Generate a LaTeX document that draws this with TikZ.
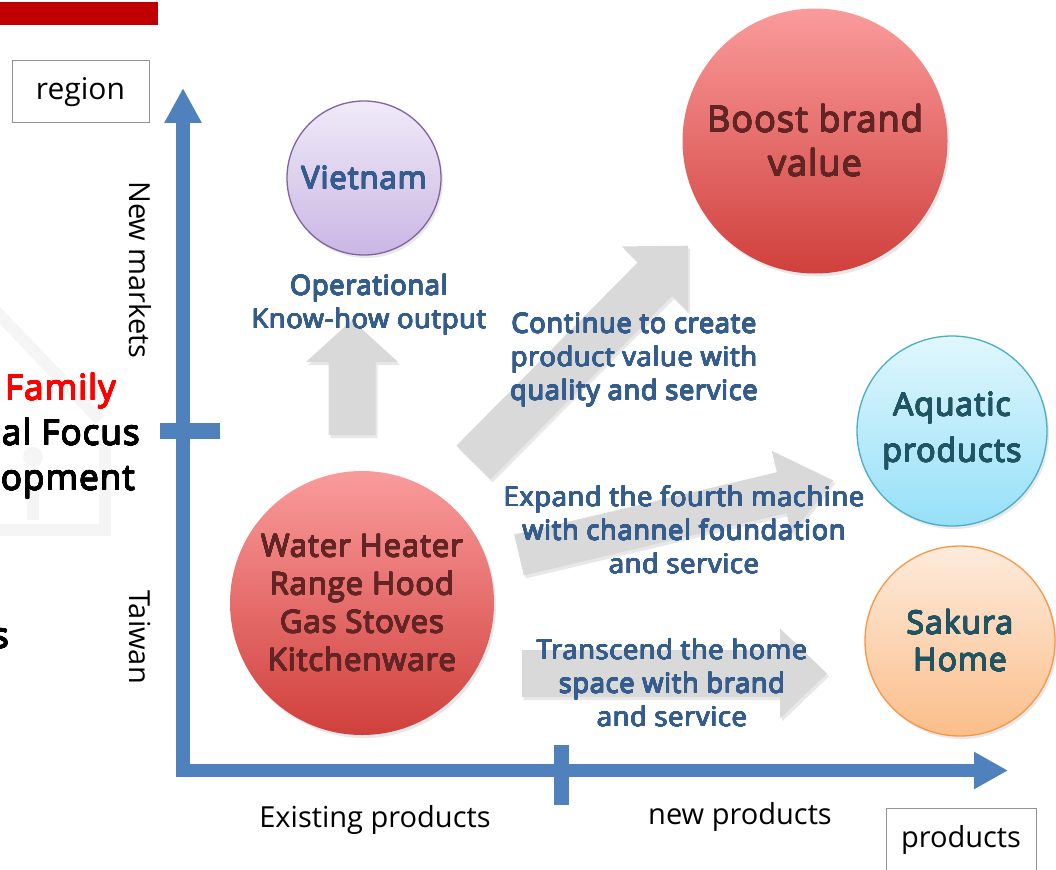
\documentclass[tikz,border=0pt]{standalone}
\usepackage{fontspec}
\setmainfont{Open Sans}
\newfontfamily\semib[LetterSpace=3]{Open Sans}
\usepackage{contour}
\contournumber{20}
\contourlength{0.42pt}
% heavier strokes for the emphasised texts, in the current text colour
\newcommand\heavy[1]{\contour{.}{#1}}
\usetikzlibrary{shadows,arrows.meta}

\definecolor{axisblue}{RGB}{79,129,189}
\definecolor{arrowgray}{RGB}{217,217,217}
\definecolor{labelblue}{RGB}{52,92,140}
\definecolor{darkred}{RGB}{99,37,35}
\definecolor{tealtext}{RGB}{33,84,99}
\definecolor{redtop}{RGB}{250,155,155}
\definecolor{redbot}{RGB}{208,64,60}
\definecolor{purptop}{RGB}{240,234,248}
\definecolor{purpbot}{RGB}{202,182,228}
\definecolor{purpline}{RGB}{128,100,162}
\definecolor{cyantop}{RGB}{224,247,253}
\definecolor{cyanbot}{RGB}{150,224,248}
\definecolor{cyanline}{RGB}{75,172,198}
\definecolor{peachtop}{RGB}{253,235,220}
\definecolor{peachbot}{RGB}{251,190,138}
\definecolor{peachline}{RGB}{247,150,70}
\definecolor{slidered}{RGB}{192,0,0}
\definecolor{housegray}{RGB}{245,245,245}

\tikzset{
  softshadow/.style={drop shadow={opacity=0.18, shadow xshift=2pt, shadow yshift=-3pt}},
  bubble/.style={circle, inner sep=0pt, align=center, line width=1.3pt, softshadow},
  redbubble/.style={bubble, top color=redtop, bottom color=redbot, text=darkred},
  blocky/.style={fill=arrowgray, softshadow},
  bluelabel/.style={align=center, text=labelblue, inner sep=0pt,
    font=\semib\fontsize{27}{33.5}\selectfont},
  axislabel/.style={inner sep=0pt, font=\fontsize{29}{34}\selectfont},
  axisline/.style={draw=axisblue, line width=13.5pt, line join=miter},
  sidetext/.style={anchor=base east, inner sep=0pt, font=\semib\fontsize{35}{42}\selectfont},
}

\begin{document}
\begin{tikzpicture}[x=1pt, y=-1pt]
\useasboundingbox (0,0) rectangle (1056,869);
\clip (0,0) rectangle (1056,869);

% faint house mark behind the left text
\begin{scope}[draw=housegray, fill=housegray, line width=12pt]
  \draw (-10,305) -- (100,420);
  \draw (105,440) -- (105,530) -- (-10,530);
  \fill (33,457) circle (10);
  \draw (33,470) -- (33,520);
\end{scope}

% slide header bar and partly visible title text
\fill[slidered] (0,2) rectangle (158,25);
\node[sidetext, text=red] (fam) at (116,400) {\heavy{Family}};
\node[sidetext] (focus) at (140,445) {\heavy{al Focus}};
\node[sidetext] (devel) at (135,490) {\heavy{opment}};
\node[sidetext] (tail) at (9,648) {\heavy{s}};

% axes
\draw[axisline, {Triangle[width=35pt,length=35pt]}-{Triangle[width=35pt,length=34pt]}]
  (183,88) -- (183,770.5) -- (1008,770.5);
\draw[axisblue, line width=16pt] (160,431) -- (220,431);
\draw[axisblue, line width=15pt] (561,745) -- (561,805);

% axis titles and labels
\node[draw=gray!85, line width=1pt, minimum width=137pt, minimum height=62pt,
      font=\fontsize{30}{36}\selectfont] (region) at (80.5,92) {region};
\node[draw=gray!85, line width=1pt, minimum width=150pt, minimum height=80pt,
      anchor=north west] (prodbox) at (886,808) {};
\node[axislabel] (prodlbl) at (961,840) {products};
\node[axislabel] (exist) at (375,820) {Existing products};
\node[axislabel] (newp) at (740,817) {new products};
\node[axislabel, rotate=-90] (newm) at (140,270) {New markets};
\node[axislabel, rotate=-90] (taiwan) at (140,637) {Taiwan};

% block arrows
\begin{scope}[shift={(352,435)}, rotate=90]
  \path[blocky] (0,-23.5) -- (73,-23.5) -- (73,-46) -- (115,0) -- (73,46) -- (73,23.5) -- (0,23.5) -- cycle;
\end{scope}
\begin{scope}[shift={(473.5,462.5)}, rotate=45.3]
  \path[blocky] (0,-24) -- (258,-24) -- (258,-46.5) -- (305,0) -- (258,46.5) -- (258,24) -- (0,24) -- cycle;
\end{scope}
\begin{scope}[shift={(519,555)}, rotate=13.35]
  \path[blocky] (0,-21) -- (270,-21) -- (270,-43) -- (323,0) -- (270,43) -- (270,21) -- (0,21) -- cycle;
\end{scope}
\begin{scope}[shift={(522,673.5)}]
  \path[blocky] (0,-23.5) -- (258,-23.5) -- (258,-45) -- (305,0) -- (258,45) -- (258,23.5) -- (0,23.5) -- cycle;
\end{scope}

% circles
\node[bubble, minimum size=154pt, top color=purptop, bottom color=purpbot, draw=purpline,
      text=labelblue, font=\semib\fontsize{31}{38}\selectfont] (vietnam) at (364,178) {\heavy{Vietnam}};
\node[redbubble, minimum size=265pt, font=\semib\fontsize{36}{44}\selectfont] (brand) at (815,141)
  {\heavy{Boost brand}\\\heavy{value}};
\node[redbubble, minimum size=264pt, font=\semib\fontsize{31}{38}\selectfont] (core) at (362,603)
  {\heavy{Water Heater}\\\heavy{Range Hood}\\\heavy{Gas Stoves}\\\heavy{Kitchenware}};
\node[bubble, minimum size=190pt, top color=cyantop, bottom color=cyanbot, draw=cyanline,
      text=tealtext, font=\semib\fontsize{32}{46}\selectfont] (aquatic) at (952,431)
  {\heavy{Aquatic}\\\heavy{products}};
\node[bubble, minimum size=190pt, top color=peachtop, bottom color=peachbot, draw=peachline,
      text=tealtext, font=\semib\fontsize{32}{37}\selectfont] (sakura) at (960,641)
  {\heavy{Sakura}\\\heavy{Home}};

% arrow captions
\node[bluelabel] (knowhow) at (369,305)
  {\heavy{Operational}\\\heavy{Know-how output}};
\node[bluelabel] (create) at (634,360)
  {\heavy{Continue to create}\\\heavy{product value with}\\\heavy{quality and service}};
\node[bluelabel] (expand) at (684,530)
  {\heavy{Expand the fourth machine}\\\heavy{with channel foundation}\\\heavy{and service}};
\node[bluelabel] (transcend) at (672,683)
  {\heavy{Transcend the home}\\\heavy{space with brand}\\\heavy{and service}};
\end{tikzpicture}
\end{document}
